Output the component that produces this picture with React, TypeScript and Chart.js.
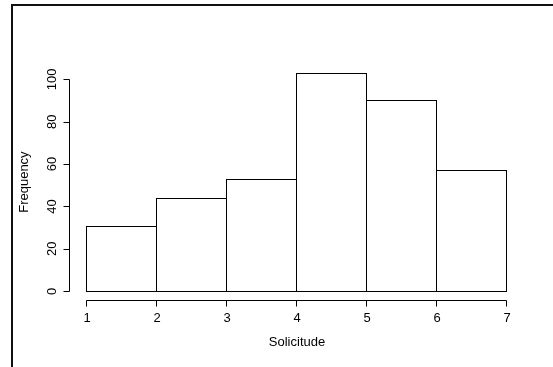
import React, { useEffect, useRef } from "react";
import { Chart, registerables } from "chart.js";

Chart.register(...registerables);

// ---- data ----
const binEdges = [1, 2, 3, 4, 5, 6, 7];
const counts = [31, 44, 53, 103, 90, 57];
const xTicks = [1, 2, 3, 4, 5, 6, 7];
const yTicks = [0, 20, 40, 60, 80, 100];
const xTitle = "Solicitude";
const yTitle = "Frequency";

const FONT = '13px "Liberation Sans", Arial, Helvetica, sans-serif';

export default function App() {
  const ref = useRef<HTMLCanvasElement | null>(null);

  useEffect(() => {
    if (!ref.current) return;
    const xmin = binEdges[0];
    const xmax = binEdges[binEdges.length - 1];
    const xr = xmax - xmin;
    const ymax = Math.max(...counts);

    const points = counts.map((c, i) => ({
      x: (binEdges[i] + binEdges[i + 1]) / 2,
      y: c,
    }));

    const outlinePlugin = {
      id: "histOutline",
      afterDatasetsDraw(chart: any) {
        const ctx = chart.ctx;
        const meta = chart.getDatasetMeta(0);
        ctx.save();
        ctx.strokeStyle = "#000";
        ctx.lineWidth = 1;
        meta.data.forEach((el: any) => {
          const p = el.getProps(["x", "y", "base", "width"], true);
          const l = Math.round(p.x - p.width / 2) - 0.5;
          const r = Math.round(p.x + p.width / 2) - 0.5;
          const t = Math.round(p.y) + 0.5;
          const b = Math.round(p.base) + 0.5;
          ctx.strokeRect(l, t, r - l, b - t);
        });
        ctx.restore();
      },
    };

    const axesPlugin = {
      id: "rAxes",
      afterDraw(chart: any) {
        const ctx = chart.ctx;
        const xs = chart.scales.x;
        const ys = chart.scales.y;
        const area = chart.chartArea;
        ctx.save();
        ctx.strokeStyle = "#000";
        ctx.fillStyle = "#000";
        ctx.lineWidth = 1;
        ctx.font = FONT;

        // y axis
        const ax = Math.round(area.left) - 0.5;
        const y0 = Math.round(ys.getPixelForValue(yTicks[0])) + 0.5;
        const y1 = Math.round(ys.getPixelForValue(yTicks[yTicks.length - 1])) + 0.5;
        ctx.beginPath();
        ctx.moveTo(ax, y0);
        ctx.lineTo(ax, y1);
        yTicks.forEach((v) => {
          const py = Math.round(ys.getPixelForValue(v)) + 0.5;
          ctx.moveTo(ax, py);
          ctx.lineTo(ax - 6, py);
        });
        ctx.stroke();
        yTicks.forEach((v) => {
          const py = ys.getPixelForValue(v);
          ctx.save();
          ctx.translate(ax - 14, py);
          ctx.rotate(-Math.PI / 2);
          ctx.textAlign = "center";
          ctx.textBaseline = "alphabetic";
          ctx.fillText(String(v), 0, 0);
          ctx.restore();
        });

        // x axis
        const ay = Math.round(area.bottom) + 0.5;
        const x0 = Math.round(xs.getPixelForValue(xTicks[0])) - 0.5;
        const x1 = Math.round(xs.getPixelForValue(xTicks[xTicks.length - 1])) - 0.5;
        ctx.beginPath();
        ctx.moveTo(x0, ay);
        ctx.lineTo(x1, ay);
        xTicks.forEach((v) => {
          const px = Math.round(xs.getPixelForValue(v)) - 0.5;
          ctx.moveTo(px, ay);
          ctx.lineTo(px, ay + 6);
        });
        ctx.stroke();
        ctx.textAlign = "center";
        ctx.textBaseline = "alphabetic";
        xTicks.forEach((v) => {
          const px = xs.getPixelForValue(v);
          ctx.fillText(String(v), px, ay + 21.5);
        });

        // titles
        const cx = (area.left + area.right) / 2;
        const cy = (area.top + area.bottom) / 2;
        ctx.fillText(xTitle, cx, ay + 45.5);
        ctx.save();
        ctx.translate(28, cy);
        ctx.rotate(-Math.PI / 2);
        ctx.fillText(yTitle, 0, 0);
        ctx.restore();

        ctx.restore();
      },
    };

    const chart = new Chart(ref.current, {
      type: "bar",
      data: {
        datasets: [
          {
            data: points as any,
            backgroundColor: "#ffffff",
            borderWidth: 0,
            barPercentage: 1,
            categoryPercentage: 1,
            inflateAmount: 0,
          } as any,
        ],
      },
      options: {
        animation: false,
        responsive: false,
        events: [],
        layout: { padding: { left: 70.2, right: 29.2, top: 64.2, bottom: 67 } },
        plugins: {
          legend: { display: false },
          tooltip: { enabled: false },
          title: { display: false },
        },
        scales: {
          x: {
            type: "linear",
            display: false,
            offset: false,
            min: xmin - 0.04 * xr,
            max: xmax + 0.04 * xr,
          },
          y: {
            type: "linear",
            display: false,
            min: -0.04 * ymax,
            max: ymax * 1.04,
          },
        },
      },
      plugins: [outlinePlugin, axesPlugin],
    });
    return () => chart.destroy();
  }, []);

  return (
    <div
      style={{
        position: "fixed",
        left: 0,
        top: 0,
        width: 553,
        height: 367,
        background: "#fff",
        overflow: "hidden",
      }}
    >
      <canvas ref={ref} width={553} height={367} style={{ position: "absolute", left: 0, top: 0 }} />
      <div
        style={{
          position: "absolute",
          left: 11,
          top: 4,
          width: 600,
          height: 400,
          borderLeft: "2px solid #111",
          borderTop: "2px solid #111",
          pointerEvents: "none",
        }}
      />
    </div>
  );
}
